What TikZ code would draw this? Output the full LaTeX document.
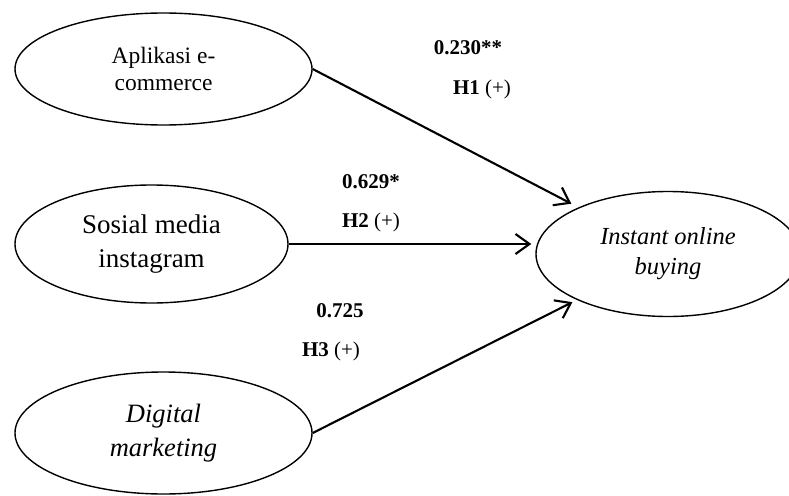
\documentclass[tikz,border=0pt]{standalone}
\usepackage{fontspec}
\setmainfont{Liberation Serif}
\usetikzlibrary{positioning, shapes.geometric, arrows.meta}

\tikzset{
  construct/.style={draw, ellipse, line width=1.4pt, inner sep=0pt, align=center},
  path coef/.style={font=\fontsize{21}{25}\selectfont\bfseries},
  hyp/.style={-{Straight Barb[length=14pt, width=20pt]}, line width=2.1pt}
}

\begin{document}
\begin{tikzpicture}[x=1pt, y=-1pt]
    \useasboundingbox (0,0) rectangle (789,495);

    % Constructs
    \node[construct, minimum width=297pt, minimum height=112pt,
          font=\fontsize{23.5}{27}\selectfont] (ecom) at (163.5,69) {Aplikasi e-\\commerce};
    \node[construct, minimum width=273pt, minimum height=118pt,
          font=\fontsize{27}{34}\selectfont] (insta) at (151.5,244) {Sosial media\\instagram};
    \node[construct, minimum width=297pt, minimum height=122pt,
          font=\fontsize{26.5}{34}\selectfont\itshape] (digmark) at (163.5,433) {Digital\\marketing};
    \node[construct, minimum width=264pt, minimum height=125pt,
          font=\fontsize{24.5}{30}\selectfont\itshape] (buying) at (668,254) {Instant online\\buying};

    % Paths
    \draw[hyp, shorten >=8pt] (ecom.east) -- (buying);
    \draw[hyp, shorten >=4pt] (insta.east) -- (insta.east -| buying.west);
    \draw[hyp, shorten >=5pt] (digmark.east) -- (buying);

    % Coefficients
    \node[path coef] (c1) at (468,48) {0.230**};
    \node[path coef] (h1) at (482,89) {H1 \mdseries(+)};
    \node[path coef] (c2) at (371,182) {0.629*};
    \node[path coef] (h2) at (371,222) {H2 \mdseries(+)};
    \node[path coef] (c3) at (340,311) {0.725};
    \node[path coef] (h3) at (331,351) {H3 \mdseries(+)};
\end{tikzpicture}
\end{document}
